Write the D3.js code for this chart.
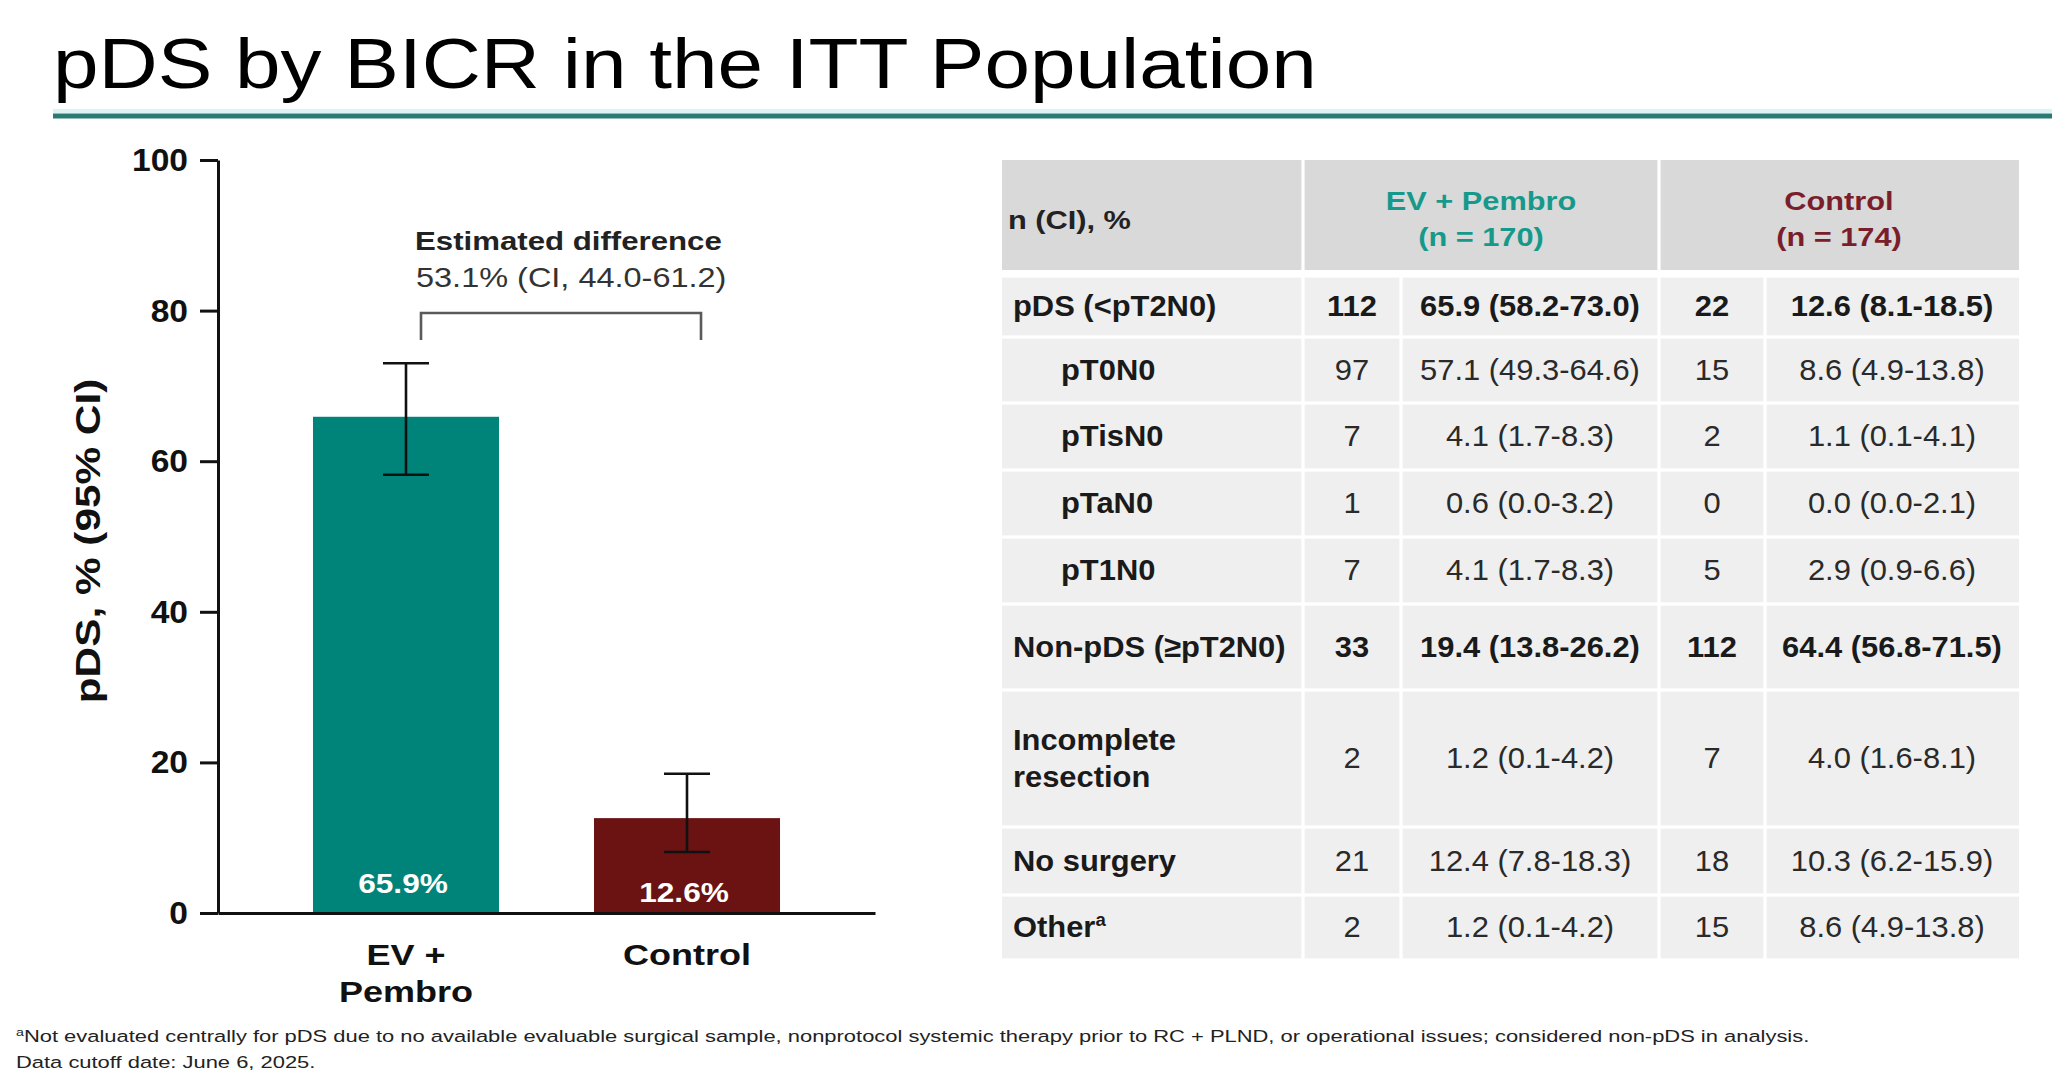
<!DOCTYPE html>
<html><head><meta charset="utf-8">
<script src="https://cdn.jsdelivr.net/npm/d3@7"></script>
<style>
html,body{margin:0;padding:0;background:#fff;}
svg{display:block;font-family:"Liberation Sans",Arial,Helvetica,sans-serif;}
</style>
</head><body>
<svg id="chart" width="2068" height="1080"></svg>
<script>
// ---------------- data ----------------
const titleText = "pDS by BICR in the ITT Population";
const categories = ["EV + Pembro", "Control"];
const categoryLines = [["EV +", "Pembro"], ["Control"]];
const pdsRate = [65.9, 12.6];
const ciLow = [58.2, 8.1];
const ciHigh = [73.0, 18.5];
const barLabels = ["65.9%", "12.6%"];
const yTicks = [0, 20, 40, 60, 80, 100];
const yTitle = "pDS, % (95% CI)";
const diffTitle = "Estimated difference";
const diffText = "53.1% (CI, 44.0-61.2)";

const headLabel = "n (CI), %";
const groupNames = ["EV + Pembro", "Control"];
const groupN = ["(n = 170)", "(n = 174)"];
const rowLabels = [["pDS (<pT2N0)"], ["pT0N0"], ["pTisN0"], ["pTaN0"], ["pT1N0"],
  ["Non-pDS (\u2265pT2N0)"], ["Incomplete", "resection"], ["No surgery"], ["Other"]];
const rowIndent = [false, true, true, true, true, false, false, false, false];
const rowBold = [true, false, false, false, false, true, false, false, false];
const rowSup = ["", "", "", "", "", "", "", "", "a"];
const evN = [112, 97, 7, 1, 7, 33, 2, 21, 2];
const evPct = ["65.9 (58.2-73.0)", "57.1 (49.3-64.6)", "4.1 (1.7-8.3)", "0.6 (0.0-3.2)",
  "4.1 (1.7-8.3)", "19.4 (13.8-26.2)", "1.2 (0.1-4.2)", "12.4 (7.8-18.3)", "1.2 (0.1-4.2)"];
const ctN = [22, 15, 2, 0, 5, 112, 7, 18, 15];
const ctPct = ["12.6 (8.1-18.5)", "8.6 (4.9-13.8)", "1.1 (0.1-4.1)", "0.0 (0.0-2.1)",
  "2.9 (0.9-6.6)", "64.4 (56.8-71.5)", "4.0 (1.6-8.1)", "10.3 (6.2-15.9)", "8.6 (4.9-13.8)"];
const footnotes = [
  ["a", "Not evaluated centrally for pDS due to no available evaluable surgical sample, nonprotocol systemic therapy prior to RC + PLND, or operational issues; considered non-pDS in analysis."],
  ["", "Data cutoff date: June 6, 2025."]
];

// ---------------- styles ----------------
const TEAL = "#00847a", MAROON = "#6b1212";
const HEAD_TEAL = "#16998a", HEAD_MAROON = "#7a1e2c";

const svg = d3.select("#chart");
svg.append("rect").attr("width", 2068).attr("height", 1080).attr("fill", "#fff");

function addText(parent, x, y, str, o) {
  o = o || {};
  const t = parent.append("text")
    .attr("transform", `translate(${x},${y})` + (o.rotate ? ` rotate(${o.rotate})` : "") + ` scale(${o.sx || 1},1)`)
    .attr("text-anchor", o.anchor || "start")
    .attr("font-size", o.size || 30)
    .attr("font-weight", o.weight || "normal")
    .attr("fill", o.fill || "#000")
    .text(str);
  return t;
}

// ---------------- title ----------------
addText(svg, 53, 88, titleText, { size: 70, sx: 1.17 });
svg.append("line").attr("x1", 53).attr("x2", 2052).attr("y1", 111).attr("y2", 111)
  .attr("stroke", "#dcf3f3").attr("stroke-width", 4);
svg.append("line").attr("x1", 53).attr("x2", 2052).attr("y1", 116).attr("y2", 116)
  .attr("stroke", "#2a7a73").attr("stroke-width", 5);

// ---------------- bar chart ----------------
const x = d3.scaleBand().domain(categories).range([218, 875]).padding(0.338);
const y = d3.scaleLinear().domain([0, 100]).range([913, 160]);
const chart = svg.append("g");

chart.selectAll("rect.bar").data(categories).join("rect")
  .attr("class", "bar")
  .attr("x", d => x(d)).attr("width", x.bandwidth())
  .attr("y", (d, i) => y(pdsRate[i])).attr("height", (d, i) => y(0) - y(pdsRate[i]))
  .attr("fill", (d, i) => i === 0 ? TEAL : MAROON);

const yAxis = d3.axisLeft(y).tickValues(yTicks).tickSize(18).tickSizeOuter(0).tickFormat("");
const gy = chart.append("g").attr("transform", `translate(${x.range()[0]},0)`).call(yAxis);
gy.selectAll("path,line").attr("stroke", "#111").attr("stroke-width", 3);
const xAxis = d3.axisBottom(x).tickSize(0).tickSizeOuter(0).tickFormat("");
const gx = chart.append("g").attr("transform", `translate(0,${y(0)})`).call(xAxis);
gx.selectAll("path").attr("stroke", "#111").attr("stroke-width", 3);

yTicks.forEach(v => addText(chart, 188, y(v) + 11, String(v), { size: 32, weight: "bold", anchor: "end", sx: 1.05, fill: "#111" }));

addText(chart, 100, 541, yTitle, { size: 35, weight: "bold", anchor: "middle", rotate: -90, sx: 1.21, fill: "#111" });

const capW = 46;
categories.forEach((c, i) => {
  const cx = x(c) + x.bandwidth() / 2;
  const g = chart.append("g").attr("stroke", "#111").attr("stroke-width", 2.6);
  g.append("line").attr("x1", cx).attr("x2", cx).attr("y1", y(ciHigh[i])).attr("y2", y(ciLow[i]));
  g.append("line").attr("x1", cx - capW / 2).attr("x2", cx + capW / 2).attr("y1", y(ciHigh[i])).attr("y2", y(ciHigh[i]));
  g.append("line").attr("x1", cx - capW / 2).attr("x2", cx + capW / 2).attr("y1", y(ciLow[i])).attr("y2", y(ciLow[i]));
});

const labelLift = [20, 11];
categories.forEach((c, i) => {
  const cx = x(c) + x.bandwidth() / 2;
  addText(chart, cx - 3, y(0) - labelLift[i], barLabels[i], { size: 28, weight: "bold", anchor: "middle", sx: 1.13, fill: "#fff" });
});

categoryLines.forEach((lines, i) => {
  const cx = x(categories[i]) + x.bandwidth() / 2;
  lines.forEach((ln, j) => addText(chart, cx, 965 + j * 37, ln, { size: 30, weight: "bold", anchor: "middle", sx: 1.2, fill: "#111" }));
});

const bx1 = x(categories[0]) + x.bandwidth() / 2 + 15;
const bx2 = x(categories[1]) + x.bandwidth() / 2 + 14;
chart.append("path")
  .attr("d", `M${bx1},340 V313 H${bx2} V340`)
  .attr("fill", "none").attr("stroke", "#5a5a5a").attr("stroke-width", 2.6);
addText(chart, 415, 250, diffTitle, { size: 26, weight: "bold", sx: 1.2, fill: "#222" });
addText(chart, 416, 287, diffText, { size: 28, sx: 1.16, fill: "#333" });

// ---------------- table ----------------
const colEdges = [1002, 1303, 1401, 1659, 1765, 2019];
const rowEdges = [276, 337, 403, 470, 537, 604, 690, 827, 895, 960];
const headTop = 160, headBot = 270;
const tbl = svg.append("g");
const gap = 1.6;

const headSpans = [[0, 1], [1, 3], [3, 5]];
headSpans.forEach(([a, b], k) => {
  tbl.append("rect")
    .attr("x", colEdges[a] + (k > 0 ? gap : 0)).attr("width", colEdges[b] - colEdges[a] - (k > 0 ? gap : 0) - (k < 2 ? gap : 0))
    .attr("y", headTop).attr("height", headBot - headTop)
    .attr("fill", "#d9d9d9");
});
for (let r = 0; r < rowLabels.length; r++) {
  for (let c = 0; c < 5; c++) {
    tbl.append("rect")
      .attr("x", colEdges[c] + (c > 0 ? gap : 0))
      .attr("width", colEdges[c + 1] - colEdges[c] - (c > 0 ? gap : 0) - (c < 4 ? gap : 0))
      .attr("y", rowEdges[r] + gap).attr("height", rowEdges[r + 1] - rowEdges[r] - 2 * gap)
      .attr("fill", "#efefef");
  }
}

addText(tbl, 1008, 229, headLabel, { size: 25, weight: "bold", sx: 1.23, fill: "#222" });
const headColors = [HEAD_TEAL, HEAD_MAROON];
[[1, 3], [3, 5]].forEach(([a, b], k) => {
  const cx = (colEdges[a] + colEdges[b]) / 2;
  addText(tbl, cx, 210, groupNames[k], { size: 25, weight: "bold", anchor: "middle", sx: 1.23, fill: headColors[k] });
  addText(tbl, cx, 246, groupN[k], { size: 25, weight: "bold", anchor: "middle", sx: 1.23, fill: headColors[k] });
});

const colCenters = [1, 2, 3, 4].map(c => (colEdges[c] + colEdges[c + 1]) / 2);
rowLabels.forEach((lines, r) => {
  const cy = (rowEdges[r] + rowEdges[r + 1]) / 2 - 1;
  const base = cy + 10.5;
  const lx = rowIndent[r] ? 1061 : 1013;
  lines.forEach((ln, j) => {
    const t = addText(tbl, lx, base + (j - (lines.length - 1) / 2) * 37, ln, { size: 30, weight: "bold", sx: 1.03, fill: "#1a1a1a" });
    if (rowSup[r] && j === lines.length - 1) {
      t.append("tspan").attr("font-size", 18).attr("dy", -11).text(rowSup[r]);
    }
  });
  const w = rowBold[r] ? "bold" : "normal";
  const fill = rowBold[r] ? "#1a1a1a" : "#2a2a2a";
  [String(evN[r]), evPct[r], String(ctN[r]), ctPct[r]].forEach((v, k) => {
    addText(tbl, colCenters[k], base, v, { size: 30, weight: w, anchor: "middle", sx: 1.03, fill });
  });
});

// ---------------- footnotes ----------------
footnotes.forEach(([sup, txt], i) => {
  const t = svg.append("text")
    .attr("transform", `translate(16,${1042 + i * 26}) scale(1.29,1)`)
    .attr("font-size", 17).attr("fill", "#222");
  if (sup) t.append("tspan").attr("font-size", 11).attr("dy", -6).text(sup);
  t.append("tspan").attr("dy", sup ? 6 : 0).text(txt);
});
</script>
</body></html>
